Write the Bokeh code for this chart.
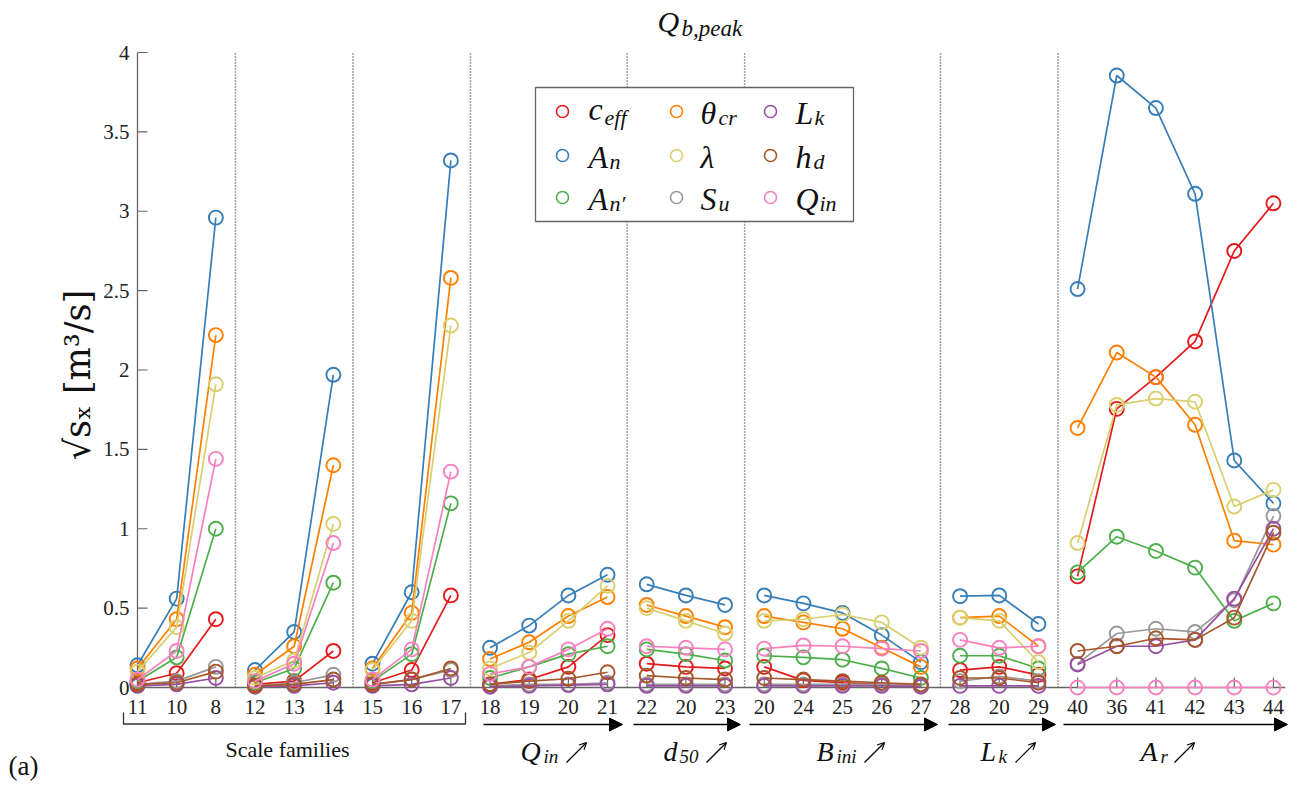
import numpy as np
from bokeh.plotting import figure
from bokeh.models import Range1d, Arrow, NormalHead, OpenHead
from bokeh.core.properties import value
from bokeh.embed import file_html
from bokeh.resources import INLINE

# ---------------- data ----------------
x_labels = ["11", "10", "8", "12", "13", "14", "15", "16", "17",
            "18", "19", "20", "21", "22", "20", "23",
            "20", "24", "25", "26", "27", "28", "20", "29",
            "40", "36", "41", "42", "43", "44"]
group_sizes = [3, 3, 3, 4, 3, 5, 3, 6]

c_eff = [0.03, 0.09, 0.43, 0.02, 0.04, 0.23, 0.03, 0.11, 0.58,
         0.02, 0.05, 0.13, 0.33, 0.15, 0.13, 0.12,
         0.13, 0.045, 0.03, 0.02, 0.01, 0.11, 0.13, 0.08,
         0.70, 1.755, 1.955, 2.18, 2.75, 3.05]
A_n = [0.14, 0.56, 2.96, 0.11, 0.35, 1.97, 0.15, 0.60, 3.32,
       0.25, 0.39, 0.58, 0.71, 0.65, 0.58, 0.52,
       0.58, 0.53, 0.47, 0.33, 0.16, 0.575, 0.58, 0.40,
       2.51, 3.855, 3.65, 3.11, 1.43, 1.16]
A_n_prime = [0.04, 0.19, 1.00, 0.03, 0.12, 0.66, 0.04, 0.21, 1.16,
             0.06, 0.13, 0.21, 0.26, 0.24, 0.21, 0.17,
             0.20, 0.19, 0.175, 0.12, 0.06, 0.20, 0.20, 0.12,
             0.725, 0.95, 0.86, 0.755, 0.42, 0.53]
theta_cr = [0.12, 0.43, 2.22, 0.08, 0.26, 1.40, 0.12, 0.47, 2.58,
            0.18, 0.285, 0.45, 0.57, 0.52, 0.45, 0.38,
            0.45, 0.41, 0.37, 0.25, 0.13, 0.44, 0.45, 0.26,
            1.635, 2.11, 1.955, 1.655, 0.925, 0.90]
lam = [0.10, 0.38, 1.91, 0.06, 0.17, 1.03, 0.11, 0.42, 2.28,
       0.12, 0.22, 0.42, 0.64, 0.50, 0.42, 0.34,
       0.42, 0.43, 0.46, 0.41, 0.25, 0.44, 0.42, 0.16,
       0.91, 1.78, 1.82, 1.80, 1.14, 1.245]
S_u = [0.02, 0.04, 0.13, 0.01, 0.03, 0.08, 0.02, 0.05, 0.11,
       0.01, 0.02, 0.02, 0.03, 0.02, 0.02, 0.02,
       0.02, 0.02, 0.02, 0.02, 0.01, 0.04, 0.07, 0.04,
       0.15, 0.34, 0.37, 0.35, 0.55, 1.08]
L_k = [0.01, 0.02, 0.06, 0.005, 0.01, 0.03, 0.01, 0.02, 0.06,
       0.005, 0.01, 0.015, 0.02, 0.01, 0.01, 0.01,
       0.01, 0.01, 0.01, 0.01, 0.005, 0.01, 0.01, 0.01,
       0.145, 0.26, 0.26, 0.30, 0.56, 1.00]
h_d = [0.02, 0.03, 0.10, 0.01, 0.02, 0.05, 0.02, 0.05, 0.12,
       0.02, 0.04, 0.055, 0.096, 0.075, 0.06, 0.05,
       0.06, 0.05, 0.04, 0.03, 0.02, 0.06, 0.06, 0.03,
       0.23, 0.26, 0.31, 0.30, 0.44, 0.975]
Q_in = [0.05, 0.23, 1.44, 0.04, 0.15, 0.91, 0.05, 0.24, 1.36,
        0.086, 0.13, 0.24, 0.37, 0.26, 0.25, 0.24,
        0.245, 0.265, 0.26, 0.245, 0.23, 0.30, 0.25, 0.26,
        0.0, 0.0, 0.0, 0.0, 0.0, 0.0]

series_main = ["c", "A", "A", "θ", "λ", "S", "L", "h", "Q"]
series_sub = ["eff", "n", "n′", "cr", "", "u", "k", "d", "in"]
series_values = [c_eff, A_n, A_n_prime, theta_cr, lam, S_u, L_k, h_d, Q_in]
series_colors = ["#e41a1c", "#377eb8", "#4daf4a", "#ff7f00", "#d9cf6f",
                 "#999999", "#984ea3", "#a65628", "#f781bf"]

y_ticks = [0, 0.5, 1, 1.5, 2, 2.5, 3, 3.5, 4]
y_tick_labels = ["0", "0.5", "1", "1.5", "2", "2.5", "3", "3.5", "4"]

group_main = ["Q", "d", "B", "L", "A"]
group_sub = ["in", "50", "ini", "k", "r"]
bracket_label = "Scale families"
title_main, title_sub = "Q", "b,peak"
y_label = "√sₓ  [m³/s]"
panel_tag = "(a)"

# ---------------- layout helpers (page pixels -> data) ----------------
W, H = 1300, 785
PX0, DX = 137.0, 39.17
PY0, DY = 687.0, 158.75


def X(px):
    return (px - PX0) / DX


def Y(py):
    return (PY0 - py) / DY


SERIF = value("Liberation Serif")
AXC = "#666666"
TXT = "#111111"

p = figure(width=W, height=H, x_range=Range1d(X(0), X(W)),
           y_range=Range1d(Y(H), Y(0)), output_backend="svg",
           toolbar_location=None, x_axis_location=None, y_axis_location=None,
           min_border=0, title=None, outline_line_color=None)
p.grid.visible = False

n = len(x_labels)
xi = list(range(n))
bounds = list(np.cumsum(group_sizes)[:-1] - 0.5)

# dotted separators
p.segment(x0=bounds, y0=[0] * len(bounds), x1=bounds, y1=[y_ticks[-1]] * len(bounds),
          line_color="#444444", line_width=1.5, line_dash="1 2")

# axes
p.segment(x0=[0], y0=[0], x1=[0], y1=[y_ticks[-1]], line_color=AXC, line_width=1.3)
p.segment(x0=[0], y0=[0], x1=[n - 1 + 0.3], y1=[0], line_color=AXC, line_width=1.3)
p.segment(x0=[0] * len(y_ticks), y0=y_ticks, x1=[10 / DX] * len(y_ticks), y1=y_ticks,
          line_color=AXC, line_width=1.2)
p.segment(x0=xi, y0=[0] * n, x1=xi, y1=[10 / DY] * n, line_color=AXC, line_width=1.2)
p.text(x=[0] * len(y_ticks), y=y_ticks, text=y_tick_labels, x_offset=-8,
       text_align="right", text_baseline="middle", text_font=SERIF,
       text_font_size="21px", text_color="#222222")
p.text(x=xi, y=[Y(706)] * n, text=x_labels, text_align="center",
       text_baseline="middle", text_font=SERIF, text_font_size="21px",
       text_color="#222222")

# data series
for vals, col in zip(series_values, series_colors):
    xs, ys = [], []
    i = 0
    for g in group_sizes:
        xs += list(range(i, i + g)) + [np.nan]
        ys += list(vals[i:i + g]) + [np.nan]
        i += g
    p.line(xs, ys, line_color=col, line_width=1.7)
    p.scatter(xi, vals, marker="circle", size=14, fill_color=None,
              line_color=col, line_width=1.9)

# legend (drawn by hand)
p.quad(left=[X(535)], right=[X(853)], top=[Y(87)], bottom=[Y(221)],
       fill_color="white", line_color=AXC, line_width=1.3)
col_circle = [562, 676, 770]
col_text = [588, 700, 795]
row_y = [111, 155, 197]
main_w = {"c": 14, "A": 19, "θ": 16, "λ": 16, "S": 16, "L": 17, "h": 16, "Q": 22}
for k, (m, s, col) in enumerate(zip(series_main, series_sub, series_colors)):
    c, r = k // 3, k % 3
    p.scatter([X(col_circle[c])], [Y(row_y[r])], marker="circle", size=12,
              fill_color=None, line_color=col, line_width=1.6)
    dy = -3 if m == "c" else 1
    p.text([X(col_text[c])], [Y(row_y[r] + dy)], text=[m], text_font=SERIF,
           text_font_style="italic", text_font_size="32px",
           text_baseline="middle", text_align="left", text_color=TXT)
    if s:
        p.text([X(col_text[c] + main_w[m] + 2)], [Y(row_y[r] + 6)], text=[s],
               text_font=SERIF, text_font_style="italic", text_font_size="22px",
               text_baseline="middle", text_align="left", text_color=TXT)

# title
p.text([X(657)], [Y(21)], text=[title_main], text_font=SERIF, text_font_style="italic",
       text_font_size="30px", text_baseline="middle", text_align="left",
       text_color=TXT)
p.text([X(681)], [Y(28)], text=[title_sub], text_font=SERIF, text_font_style="italic",
       text_font_size="23px", text_baseline="middle", text_align="left",
       text_color=TXT)

# y label
p.text([X(77)], [Y(369)], text=[y_label], angle=np.pi / 2, text_font=value("DejaVu Serif"),
       text_font_size="35px", text_baseline="middle", text_align="center",
       text_color=TXT)

# bracket for scale families
p.line([X(123), X(123), X(465), X(465)], [Y(712), Y(723.5), Y(723.5), Y(712)],
       line_color="#333333", line_width=1.3)
p.text([X(287)], [Y(749)], text=[bracket_label], text_font=SERIF, text_font_size="22px",
       text_baseline="middle", text_align="center", text_color=TXT)

# group arrows and labels
arrow_px = [(483, 622), (633, 740), (749, 937), (948, 1055), (1063, 1287)]
label_px = [520, 663, 816, 980, 1140]
lab_w = {"Q": 22, "d": 15, "B": 19, "L": 17, "A": 19}
small_arrow_px = [566, 706, 864, 1015, 1174]
for (a0, a1), lx, m, s, sx in zip(arrow_px, label_px, group_main, group_sub, small_arrow_px):
    p.add_layout(Arrow(end=NormalHead(size=13, fill_color="black", line_color="black"),
                       x_start=X(a0), y_start=Y(724), x_end=X(a1), y_end=Y(724),
                       line_color="black", line_width=1.6))
    p.text([X(lx)], [Y(751)], text=[m], text_font=SERIF, text_font_style="italic",
           text_font_size="28px", text_baseline="middle", text_align="left",
           text_color=TXT)
    p.text([X(lx + lab_w[m] + 1)], [Y(756)], text=[s], text_font=SERIF,
           text_font_style="italic", text_font_size="19px", text_baseline="middle",
           text_align="left", text_color=TXT)
    p.add_layout(Arrow(end=OpenHead(size=7, line_width=1.2, line_color="black"),
                       x_start=X(sx), y_start=Y(762), x_end=X(sx + 20), y_end=Y(742),
                       line_color="black", line_width=1.2))

# panel tag
p.text([X(8)], [Y(765)], text=[panel_tag], text_font=SERIF, text_font_size="27px",
       text_baseline="middle", text_align="left", text_color=TXT)

open("out.html", "w").write(file_html(p, INLINE))
